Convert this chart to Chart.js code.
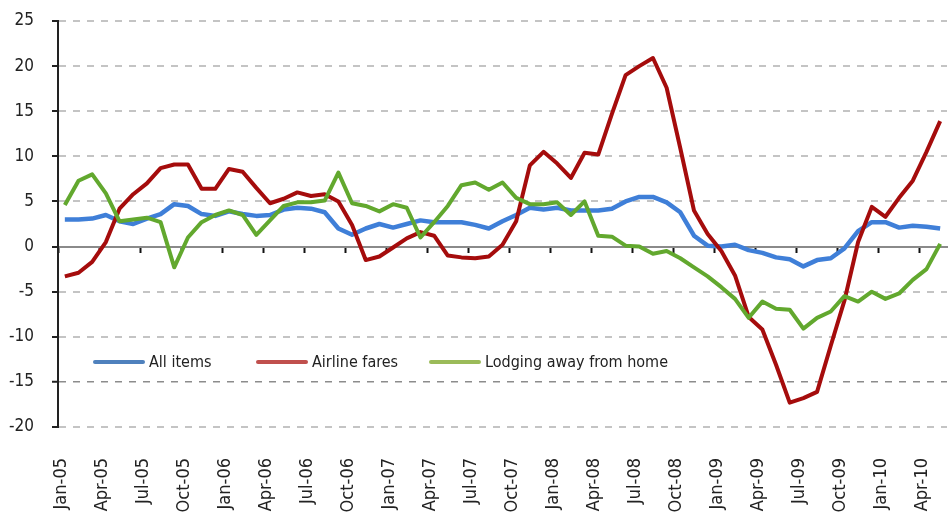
<!DOCTYPE html>
<html>
<head>
<meta charset="utf-8">
<script src="https://cdn.jsdelivr.net/npm/chart.js@4.4.1/dist/chart.umd.min.js"></script>
<style>
  html, body { margin: 0; padding: 0; background: #ffffff; }
  #wrap { width: 950px; height: 521px; position: relative; }
</style>
</head>
<body>
<div id="wrap"><canvas id="c" width="950" height="521"></canvas></div>
<script>
const months = [
  'Jan-05','Feb-05','Mar-05','Apr-05','May-05','Jun-05','Jul-05','Aug-05','Sep-05','Oct-05','Nov-05','Dec-05',
  'Jan-06','Feb-06','Mar-06','Apr-06','May-06','Jun-06','Jul-06','Aug-06','Sep-06','Oct-06','Nov-06','Dec-06',
  'Jan-07','Feb-07','Mar-07','Apr-07','May-07','Jun-07','Jul-07','Aug-07','Sep-07','Oct-07','Nov-07','Dec-07',
  'Jan-08','Feb-08','Mar-08','Apr-08','May-08','Jun-08','Jul-08','Aug-08','Sep-08','Oct-08','Nov-08','Dec-08',
  'Jan-09','Feb-09','Mar-09','Apr-09','May-09','Jun-09','Jul-09','Aug-09','Sep-09','Oct-09','Nov-09','Dec-09',
  'Jan-10','Feb-10','Mar-10','Apr-10','May-10'
];

const allItems = [
  3.0, 3.0, 3.1, 3.5, 2.8, 2.5, 3.1, 3.6, 4.7, 4.5, 3.6, 3.4,
  3.9, 3.6, 3.4, 3.5, 4.1, 4.3, 4.2, 3.8, 2.0, 1.3, 2.0, 2.5,
  2.1, 2.5, 2.9, 2.7, 2.7, 2.7, 2.4, 2.0, 2.8, 3.5, 4.3, 4.1,
  4.3, 4.0, 4.0, 4.0, 4.2, 5.0, 5.5, 5.5, 4.9, 3.8, 1.2, 0.1,
  0.0, 0.2, -0.4, -0.7, -1.2, -1.4, -2.2, -1.5, -1.3, -0.2, 1.7, 2.7,
  2.7, 2.1, 2.3, 2.2, 2.0
];

const airlineFares = [
  -3.3, -2.9, -1.7, 0.5, 4.2, 5.8, 7.0, 8.7, 9.1, 9.1, 6.4, 6.4,
  8.6, 8.3, 6.5, 4.8, 5.3, 6.0, 5.6, 5.8, 5.0, 2.4, -1.5, -1.1,
  -0.1, 0.9, 1.6, 1.2, -1.0, -1.2, -1.3, -1.1, 0.2, 2.8, 9.0, 10.5,
  9.2, 7.6, 10.4, 10.2, 14.7, 19.0, 20.0, 20.9, 17.6, 10.9, 4.0, 1.4,
  -0.5, -3.2, -7.8, -9.2, -13.1, -17.3, -16.8, -16.1, -11.0, -6.0, 0.5, 4.4,
  3.3, 5.4, 7.3, 10.5, 13.9
];

const lodging = [
  4.6, 7.3, 8.0, 5.9, 2.8, 3.0, 3.2, 2.7, -2.3, 1.0, 2.7, 3.5,
  4.0, 3.5, 1.3, 2.9, 4.5, 4.9, 4.9, 5.1, 8.2, 4.8, 4.5, 3.9,
  4.7, 4.3, 1.0, 2.7, 4.5, 6.8, 7.1, 6.3, 7.1, 5.4, 4.7, 4.7,
  4.9, 3.5, 5.0, 1.2, 1.1, 0.1, 0.0, -0.8, -0.5, -1.3, -2.3, -3.3,
  -4.5, -5.8, -7.9, -6.1, -6.9, -7.0, -9.1, -7.9, -7.2, -5.5, -6.1, -5.0,
  -5.8, -5.2, -3.7, -2.5, 0.3
];

const seriesNames = ['All items', 'Airline fares', 'Lodging away from home'];
const lineColors = ['#3f7fd8', '#a50c0c', '#62a82e'];
const legendColors = ['#4f81bd', '#c0504d', '#9bbb59'];

const NARROW = "'Liberation Sans Narrow', 'DejaVu Sans Condensed', 'Arial Narrow', sans-serif";
const COND = "'DejaVu Sans Condensed', 'Liberation Sans Narrow', sans-serif";

function zeroPad(s) {
  s.paddingLeft = 0; s.paddingRight = 0; s.paddingTop = 0; s.paddingBottom = 0;
}

const insideLegend = {
  id: 'insideLegend',
  afterDatasetsDraw(chart) {
    const { ctx, chartArea, scales } = chart;
    const y = Math.round(scales.y.getPixelForValue(-12.75));
    const starts = [37, 200, 373];
    ctx.save();
    ctx.font = "16px " + COND;
    ctx.textBaseline = 'middle';
    ctx.textAlign = 'left';
    chart.data.datasets.forEach((ds, i) => {
      const x0 = chartArea.left + starts[i];
      ctx.strokeStyle = legendColors[i];
      ctx.lineWidth = 4;
      ctx.lineCap = 'round';
      ctx.beginPath();
      ctx.moveTo(x0, y);
      ctx.lineTo(x0 + 48, y);
      ctx.stroke();
      ctx.fillStyle = '#222222';
      ctx.fillText(ds.label, x0 + 54, y + 1);
    });
    ctx.restore();
  }
};

new Chart(document.getElementById('c'), {
  type: 'line',
  data: {
    labels: months,
    datasets: [
      { label: seriesNames[0], data: allItems, borderColor: lineColors[0], borderWidth: 4.5, order: 2, xAxisID: 'x', yAxisID: 'y' },
      { label: seriesNames[1], data: airlineFares, borderColor: lineColors[1], borderWidth: 4, order: 1, xAxisID: 'x', yAxisID: 'y' },
      { label: seriesNames[2], data: lodging, borderColor: lineColors[2], borderWidth: 4, order: 0, xAxisID: 'x', yAxisID: 'y' }
    ]
  },
  options: {
    responsive: false,
    animation: false,
    devicePixelRatio: 1,
    layout: { padding: { top: 21, right: 3, left: 0, bottom: 0 } },
    elements: {
      point: { radius: 0, hoverRadius: 0 },
      line: { tension: 0, borderJoinStyle: 'round', borderCapStyle: 'butt', fill: false }
    },
    plugins: {
      legend: { display: false },
      tooltip: { enabled: false },
      title: { display: false }
    },
    scales: {
      x: {
        type: 'category',
        position: 'bottom',
        offset: true,
        grid: { display: false, drawTicks: false },
        border: { display: false },
        ticks: {
          autoSkip: false,
          maxRotation: 90,
          minRotation: 90,
          padding: 31,
          labelOffset: -4,
          color: '#222222',
          font: { family: COND, size: 18 },
          callback: function (v, i) { return i % 3 === 0 ? months[i] : null; }
        },
        afterFit: (s) => { s.height = 94; zeroPad(s); }
      },
      x0: {
        type: 'category',
        axis: 'x',
        position: { y: 0 },
        offset: true,
        ticks: { display: false },
        grid: {
          offset: true,
          drawOnChartArea: false,
          drawTicks: true,
          tickLength: 5,
          tickWidth: 2,
          color: 'rgba(0,0,0,0)',
          tickColor: (c) => (c.index % 3 === 0 ? '#111111' : 'rgba(0,0,0,0)')
        },
        border: { display: true, color: '#8a8a8a', width: 2 },
        afterFit: (s) => { zeroPad(s); }
      },
      y: {
        type: 'linear',
        position: 'left',
        min: -20,
        max: 25,
        ticks: {
          stepSize: 5,
          color: '#222222',
          padding: 18,
          font: { family: NARROW, size: 17 }
        },
        grid: {
          color: (c) => (c.tick.value === 0 ? 'rgba(0,0,0,0)' : (c.tick.value === -15 ? '#8c8c8c' : '#c4c4c4')),
          lineWidth: (c) => (c.tick.value === -15 ? 1.5 : 2),
          drawTicks: true,
          tickLength: 6,
          tickWidth: 2,
          tickColor: '#222222'
        },
        border: { display: true, color: '#222222', width: 2, dash: [7, 7] },
        afterFit: (s) => { s.width = 58; zeroPad(s); }
      }
    }
  },
  plugins: [insideLegend]
});
</script>
</body>
</html>
